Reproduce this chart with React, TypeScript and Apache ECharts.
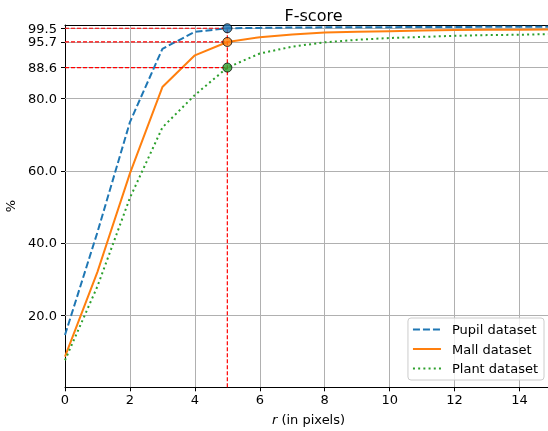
import React, { useEffect, useRef } from "react";
import * as echarts from "echarts";

const xValues = [0, 1, 2, 3, 4, 5, 6, 7, 8, 9, 10, 11, 12, 13, 14, 15];
const pupil = [14.5, 43, 73.5, 93.8, 98.5, 99.5, 99.6, 99.7, 99.75, 99.8, 99.8, 99.85, 99.85, 99.9, 99.9, 99.9];
const mall = [8.5, 32, 59.3, 83.2, 92.0, 95.7, 97.0, 97.8, 98.3, 98.5, 98.7, 98.85, 99.0, 99.05, 99.1, 99.15];
const plant = [7.5, 28, 52.5, 72, 81, 88.6, 92.5, 94.4, 95.6, 96.3, 96.8, 97.1, 97.4, 97.6, 97.7, 97.9];
const seriesNames = ["Pupil dataset", "Mall dataset", "Plant dataset"];
const yTicks = [20, 40, 60, 80, 88.6, 95.7, 99.5];
const xTickInterval = 2;
const highlightIndex = 5;
const titleText = "F-score";
const yName = "%";

const colors = ["#1f77b4", "#ff7f0e", "#2ca02c"];

export default function App() {
  const ref = useRef<HTMLDivElement>(null);
  useEffect(() => {
    const chart = echarts.init(ref.current!, null, { renderer: "svg" });
    const font = "DejaVu Sans";
    const all = [pupil, mall, plant];
    const hx = xValues[highlightIndex];
    const hv = all.map((s) => s[highlightIndex]);
    const guideStyle = { color: "#ff0000", width: 1.2, type: [4, 2] as any };
    const lineStyles = [
      { color: colors[0], width: 2, type: [7, 3] as any },
      { color: colors[1], width: 2, type: "solid" as any },
      { color: colors[2], width: 2, type: [2, 3.2] as any },
    ];
    const series: any[] = [];
    series.push({
      type: "line",
      name: "_grid",
      data: [],
      silent: true,
      z: 1,
      markLine: {
        silent: true,
        symbol: "none",
        label: { show: false },
        z: 1,
        lineStyle: { color: "#b0b0b0", width: 1, type: "solid" },
        data: yTicks.map((v) => ({ yAxis: v })),
      },
    });
    all.forEach((s, i) => {
      series.push({
        type: "line",
        name: seriesNames[i],
        data: xValues.map((x, j) => [x, s[j]]),
        showSymbol: false,
        symbol: "none",
        lineStyle: lineStyles[i],
        itemStyle: { color: colors[i] },
        z: 3,
      });
    });
    hv.forEach((v) => {
      series.push({
        type: "line",
        name: "_guide",
        data: [[xValues[0], v], [hx, v]],
        symbol: "none",
        lineStyle: guideStyle,
        silent: true,
        z: 4,
      });
    });
    series.push({
      type: "line",
      name: "_guideV",
      data: [[hx, 0], [hx, Math.max(...hv)]],
      symbol: "none",
      lineStyle: guideStyle,
      silent: true,
      z: 4,
    });
    series.push({
      type: "scatter",
      name: "_markers",
      data: hv.map((v, i) => ({ value: [hx, v], itemStyle: { color: colors[i] } })),
      symbol: "circle",
      symbolSize: 9,
      itemStyle: { borderColor: "#000", borderWidth: 1 },
      z: 5,
      silent: true,
    });

    chart.setOption({
      animation: false,
      textStyle: { fontFamily: font },
      title: {
        text: titleText,
        left: 308.5,
        textAlign: "center",
        top: 2,
        textStyle: { fontFamily: font, fontSize: 16, fontWeight: "normal", color: "#000" },
      },
      legend: {
        data: seriesNames,
        orient: "vertical",
        right: 4,
        bottom: 51,
        itemWidth: 28,
        itemHeight: 14,
        itemGap: 6.5,
        padding: [5, 6, 5, 4],
        backgroundColor: "rgba(255,255,255,0.8)",
        borderColor: "#cccccc",
        borderWidth: 1,
        borderRadius: 3,
        itemStyle: { opacity: 0, borderWidth: 0 },
        textStyle: { fontFamily: font, fontSize: 13, color: "#000", padding: [0, 0, 0, 6] },
      },
      grid: { left: 65, right: -4, top: 25, bottom: 43.7, outerBoundsMode: "none" },
      xAxis: [
        {
          type: "value",
          min: 0,
          max: 15,
          interval: xTickInterval,
          name: "{i|r} (in pixels)",
          nameLocation: "middle",
          nameGap: 26,
          nameTextStyle: {
            fontFamily: font,
            fontSize: 13,
            color: "#000",
            rich: { i: { fontStyle: "italic", fontFamily: font, fontSize: 13, color: "#000" } },
          },
          axisLine: { show: true, lineStyle: { color: "#000", width: 1 } },
          axisTick: { show: true, length: 4, lineStyle: { color: "#000" } },
          axisLabel: {
            fontFamily: font,
            fontSize: 13,
            color: "#000",
            margin: 6,
            showMaxLabel: false,
          },
          splitLine: { show: true, lineStyle: { color: "#b0b0b0", width: 1 } },
        },
        {
          type: "value",
          position: "top",
          min: 0,
          max: 15,
          axisLine: { show: true, lineStyle: { color: "#000", width: 1 } },
          axisTick: { show: false },
          axisLabel: { show: false },
          splitLine: { show: false },
        },
      ],
      yAxis: {
        type: "value",
        min: 0,
        max: 100.4,
        name: yName,
        nameLocation: "middle",
        nameRotate: 90,
        nameGap: 44,
        nameTextStyle: { fontFamily: font, fontSize: 13, color: "#000" },
        axisLine: { show: true, lineStyle: { color: "#000", width: 1 } },
        axisTick: { show: true, length: 4, customValues: yTicks, lineStyle: { color: "#000" } },
        axisLabel: {
          customValues: yTicks,
          formatter: (v: number) => v.toFixed(1),
          fontFamily: font,
          fontSize: 13,
          color: "#000",
          margin: 8,
        },
        splitLine: { show: false },
      },
      series,
    });
    return () => chart.dispose();
  }, []);
  return <div ref={ref} style={{ position: "fixed", left: 0, top: 0, width: 548, height: 431 }} />;
}
